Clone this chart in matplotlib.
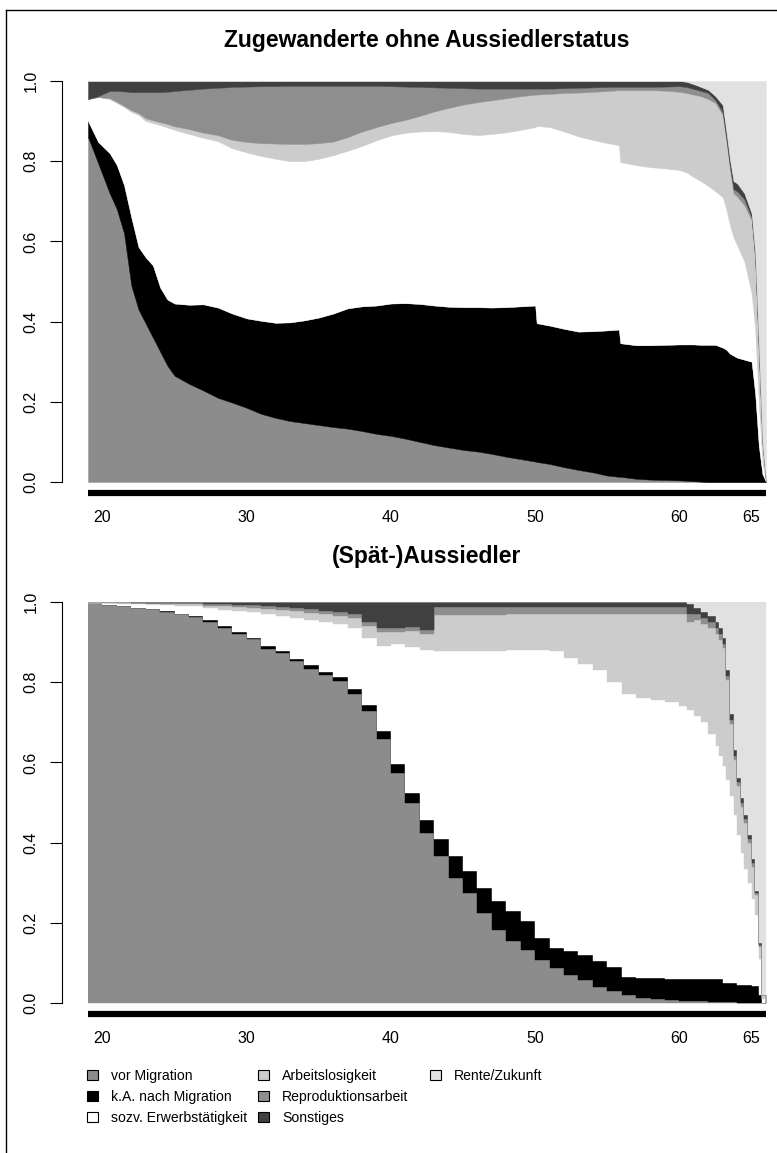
import matplotlib
matplotlib.use("Agg")
import matplotlib.pyplot as plt
from matplotlib.lines import Line2D
from matplotlib.patches import Patch
import numpy as np

plt.rcParams['font.family'] = ['Liberation Sans', 'DejaVu Sans']

# Zustaende (Reihenfolge von unten nach oben) und Graustufen
states = ["vor Migration", "k.A. nach Migration", "sozv. Erwerbstätigkeit",
          "Arbeitslosigkeit", "Reproduktionsarbeit", "Sonstiges", "Rente/Zukunft"]
colors = ["#8c8c8c", "#000000", "#ffffff", "#cccccc", "#8e8e8e", "#404040", "#e1e1e1"]

# --- Zugewanderte ohne Aussiedlerstatus: Anteile je Alter ---
p1_age = [19, 19.7, 20.5, 21, 21.5, 22, 22.5, 23, 23.5, 24, 24.5, 25,
          26, 27, 28, 29, 30, 31, 32, 33, 34, 35, 36, 37, 38, 39, 40, 41, 42, 43, 44, 45, 46, 47, 48, 49, 50,
          50.1, 51, 52, 53, 54, 55, 55.8, 55.9, 57, 58, 59, 60,
          60.5, 61, 61.5, 62, 62.5, 63, 63.25, 63.5, 63.75, 64, 64.5, 65, 65.25, 65.5, 65.75, 66]
p1_vor = [.86, .795, .72, .68, .62, .49, .43, .395, .36, .325, .29, .265,
          .245, .228, .21, .198, .185, .17, .16, .152, .147, .142, .137, .133, .127, .12, .115, .108, .10, .092,
          .086, .08, .076, .07, .063, .057, .051,
          .05, .045, .037, .03, .024, .016, .013, .013, .008, .006, .005, .004,
          .003, .002, .001, 0, 0, 0, 0, 0, 0, 0, 0, 0, 0, 0, 0, 0]
p1_ka = [.04, .053, .10, .11, .12, .17, .156, .165, .18, .16, .165, .18,
         .197, .215, .225, .222, .223, .232, .237, .246, .256, .268, .283, .30, .311, .32, .33, .338, .344, .348,
         .351, .356, .36, .365, .373, .381, .389,
         .346, .345, .345, .345, .352, .362, .367, .333, .333, .335, .337, .339,
         .34, .341, .341, .342, .342, .335, .33, .32, .315, .31, .305, .30, .22, .09, .02, 0]
p1_soz = [.055, .112, .135, .155, .195, .263, .329, .34, .355, .405, .429, .433,
          .426, .415, .415, .412, .414, .411, .409, .402, .397, .396, .395, .393, .40, .412, .419, .425, .43, .435,
          .436, .432, .429, .433, .436, .44, .445,
          .492, .495, .492, .487, .477, .467, .46, .452, .449, .444, .44, .435,
          .429, .417, .408, .396, .383, .375, .35, .32, .295, .28, .245, .17, .16, .11, .03, 0]
p1_arb = [0, 0, .002, .003, .003, .004, .005, .007, .007, .007, .009, .009,
          .012, .013, .015, .021, .026, .032, .038, .043, .043, .039, .034, .034, .036, .033, .031, .032, .039, .049,
          .06, .073, .082, .084, .085, .084, .081,
          .078, .083, .096, .109, .12, .13, .137, .179, .187, .192, .194, .195,
          .198, .206, .212, .217, .22, .205, .17, .14, .11, .122, .14, .183, .17, .12, .05, 0]
p1_rep = [0, .002, .018, .027, .036, .045, .052, .065, .07, .075, .08, .088,
          .098, .11, .118, .132, .138, .142, .143, .145, .145, .143, .139, .128, .114, .103, .092, .083, .072, .06,
          .05, .041, .034, .029, .024, .019, .015,
          .015, .013, .012, .012, .011, .01, .008, .008, .008, .008, .01, .014,
          .015, .014, .013, .015, .007, .007, .008, .008, .01, .013, .015, .007, .01, .01, 0, 0]
p1_son = [.045, .038, .025, .025, .026, .028, .028, .028, .028, .028, .027, .025,
          .022, .019, .017, .015, .014, .013, .013, .012, .012, .012, .012, .012, .012, .012, .013, .014, .015, .016,
          .017, .018, .019, .019, .019, .019, .019,
          .019, .019, .018, .017, .016, .015, .015, .015, .015, .015, .014, .013,
          .013, .012, .01, .008, .01, .018, .017, .017, .02, .02, .015, .01, .01, .01, 0, 0]
p1_ren = [0] * 49 + [.002, .008, .015, .022, .038, .06, .125, .195, .25, .255, .28, .33, .43, .66, .90, 1.0]

# --- (Spaet-)Aussiedler: Anteile je Alter (Jahresstufen) ---
p2_age = list(range(19, 61)) + [60.5, 61, 61.5, 62, 62.5, 62.75, 63, 63.25, 63.5, 63.75,
                                 64, 64.25, 64.5, 64.75, 65, 65.25, 65.5, 65.75, 66]
p2_vor = [.997, .993, .99, .986, .982, .976, .97, .962, .951, .936,
          .919, .907, .883, .872, .853, .834, .817, .802, .77, .729,
          .659, .574, .499, .424, .366, .312, .275, .225, .183, .154,
          .133, .108, .087, .071, .058, .041, .029, .021, .012, .01, .008, .006,
          .005, .004, .004, .003, .003, .003, .002, .002, .002, .002, .001, .001, .001, .001, 0, 0, 0, 0, 0]
p2_ka = [0, 0, 0, 0, 0, .001, .001, .002, .005, .004,
         .006, .004, .007, .006, .006, .008, .009, .01, .013, .014,
         .019, .021, .025, .033, .042, .054, .053, .062, .071, .075,
         .071, .054, .05, .058, .062, .063, .062, .045, .05, .052, .052, .054,
         .055, .056, .056, .057, .057, .057, .048, .048, .048, .048, .045, .045, .045, .045, .042, .042, .02, 0, 0]
p2_soz = [.001, .004, .006, .009, .012, .016, .02, .025, .029, .04,
          .053, .064, .08, .087, .101, .113, .124, .133, .152, .167,
          .212, .30, .363, .423, .47, .512, .55, .591, .624, .651,
          .676, .718, .74, .731, .725, .726, .709, .704, .698, .693, .69, .68,
          .67, .655, .64, .61, .58, .555, .54, .505, .465, .42, .374, .329, .289, .254, .218, .178, .09, .01, 0]
p2_arb = [.001, .001, .002, .002, .002, .003, .004, .005, .006, .009,
          .01, .011, .013, .015, .017, .018, .019, .019, .025, .03,
          .035, .03, .04, .04, .09, .09, .09, .09, .09, .09,
          .09, .09, .093, .11, .125, .141, .171, .201, .211, .216, .221, .231,
          .22, .24, .245, .265, .28, .29, .295, .25, .18, .135, .12, .115, .115, .10, .08, .05, .03, .01, 0]
p2_rep = [0, .001, .001, .001, .002, .002, .002, .003, .004, .005,
          .005, .006, .007, .008, .008, .009, .009, .01, .01, .01,
          .01, .01, .01, .01, .02, .02, .02, .02, .02, .018,
          .018, .018, .018, .018, .018, .017, .017, .017, .017, .017, .017, .017,
          .02, .015, .015, .015, .015, .015, .01, .01, .01, .01, .01, .01, .01, .01, .01, .005, .005, 0, 0]
p2_son = [.001, .001, .001, .002, .002, .002, .003, .003, .005, .006,
          .007, .008, .01, .012, .015, .018, .022, .026, .03, .05,
          .065, .065, .063, .07, .012, .012, .012, .012, .012, .012,
          .012, .012, .012, .012, .012, .012, .012, .012, .012, .012, .012, .012,
          .025, .015, .015, .015, .015, .015, .015, .015, .015, .015, .01, .01, .01, .01, .01, .005, .005, 0, 0]
p2_ren = [0] * 42 + [.005, .015, .025, .035, .05, .065, .09, .17, .28, .37,
                     .44, .49, .53, .58, .64, .72, .85, .98, 1.0]

xtick_pos = [20, 30, 40, 50, 60, 65]
xtick_lab = ["20", "30", "40", "50", "60", "65"]
ytick_pos = [0.0, 0.2, 0.4, 0.6, 0.8, 1.0]

W, H = 777, 1153
fig = plt.figure(figsize=(W / 100, H / 100), dpi=100)


def draw_panel(ax, ages, shares, step, title, title_y):
    lower = np.zeros(len(ages))
    for vals, col in zip(shares, colors):
        upper = lower + np.array(vals)
        ax.fill_between(ages, lower, upper, step=step, facecolor=col,
                        edgecolor=col, linewidth=0.3)
        lower = upper
    ax.set_xlim(19, 66)
    ax.set_ylim(0, 1)
    for s in ["top", "right"]:
        ax.spines[s].set_visible(False)
    ax.spines["left"].set_position(("outward", 18.5))
    ax.spines["left"].set_bounds(0, 1)
    ax.spines["left"].set_linewidth(0.8)
    ax.spines["bottom"].set_position(("outward", 8))
    ax.spines["bottom"].set_linewidth(4.5)
    ax.spines["bottom"].set_capstyle("butt")
    ax.set_yticks(ytick_pos)
    ax.set_yticklabels([f"{v:.1f}" for v in ytick_pos])
    ax.set_xticks(xtick_pos)
    ax.set_xticklabels(xtick_lab)
    ax.tick_params(axis="y", length=9, width=0.8, pad=8, labelsize=11.5)
    ax.tick_params(axis="x", length=0, pad=12, labelsize=11.5)
    for lab in ax.get_yticklabels():
        lab.set_rotation(90)
        lab.set_va("center")
        lab.set_ha("right")
    fig.text(427 / W, 1 - title_y / H, title, ha="center", va="center",
             fontsize=16.5, fontweight="bold")


ax1 = fig.add_axes([88 / W, 1 - 482 / H, 678 / W, 401 / H])
draw_panel(ax1, p1_age, [p1_vor, p1_ka, p1_soz, p1_arb, p1_rep, p1_son, p1_ren],
           None, "Zugewanderte ohne Aussiedlerstatus", 40)

ax2 = fig.add_axes([88 / W, 1 - 1003 / H, 678 / W, 401 / H])
draw_panel(ax2, p2_age, [p2_vor, p2_ka, p2_soz, p2_arb, p2_rep, p2_son, p2_ren],
           "post", "(Spät-)Aussiedler", 557)

# Legende in drei Spalten gleicher Breite
handles = [Patch(facecolor=c, edgecolor="black", linewidth=0.8) for c in colors]
col_x = [87, 258, 430]
for k, x in enumerate(col_x):
    idx = list(range(k * 3, min(k * 3 + 3, len(states))))
    fig.legend([handles[i] for i in idx], [states[i] for i in idx],
               loc="upper left", bbox_to_anchor=(x / W, 1 - 1069 / H),
               frameon=False, fontsize=10.1, handlelength=0.75, handleheight=0.75,
               handletextpad=0.95, labelspacing=0.5, borderpad=0, borderaxespad=0)

# Rahmen links und oben
fig.add_artist(Line2D([6 / W, 6 / W], [0, 1 - 10 / H], transform=fig.transFigure,
                      color="black", linewidth=1))
fig.add_artist(Line2D([6 / W, 1], [1 - 10 / H, 1 - 10 / H], transform=fig.transFigure,
                      color="black", linewidth=1))

fig.savefig("out.png", dpi=100)
